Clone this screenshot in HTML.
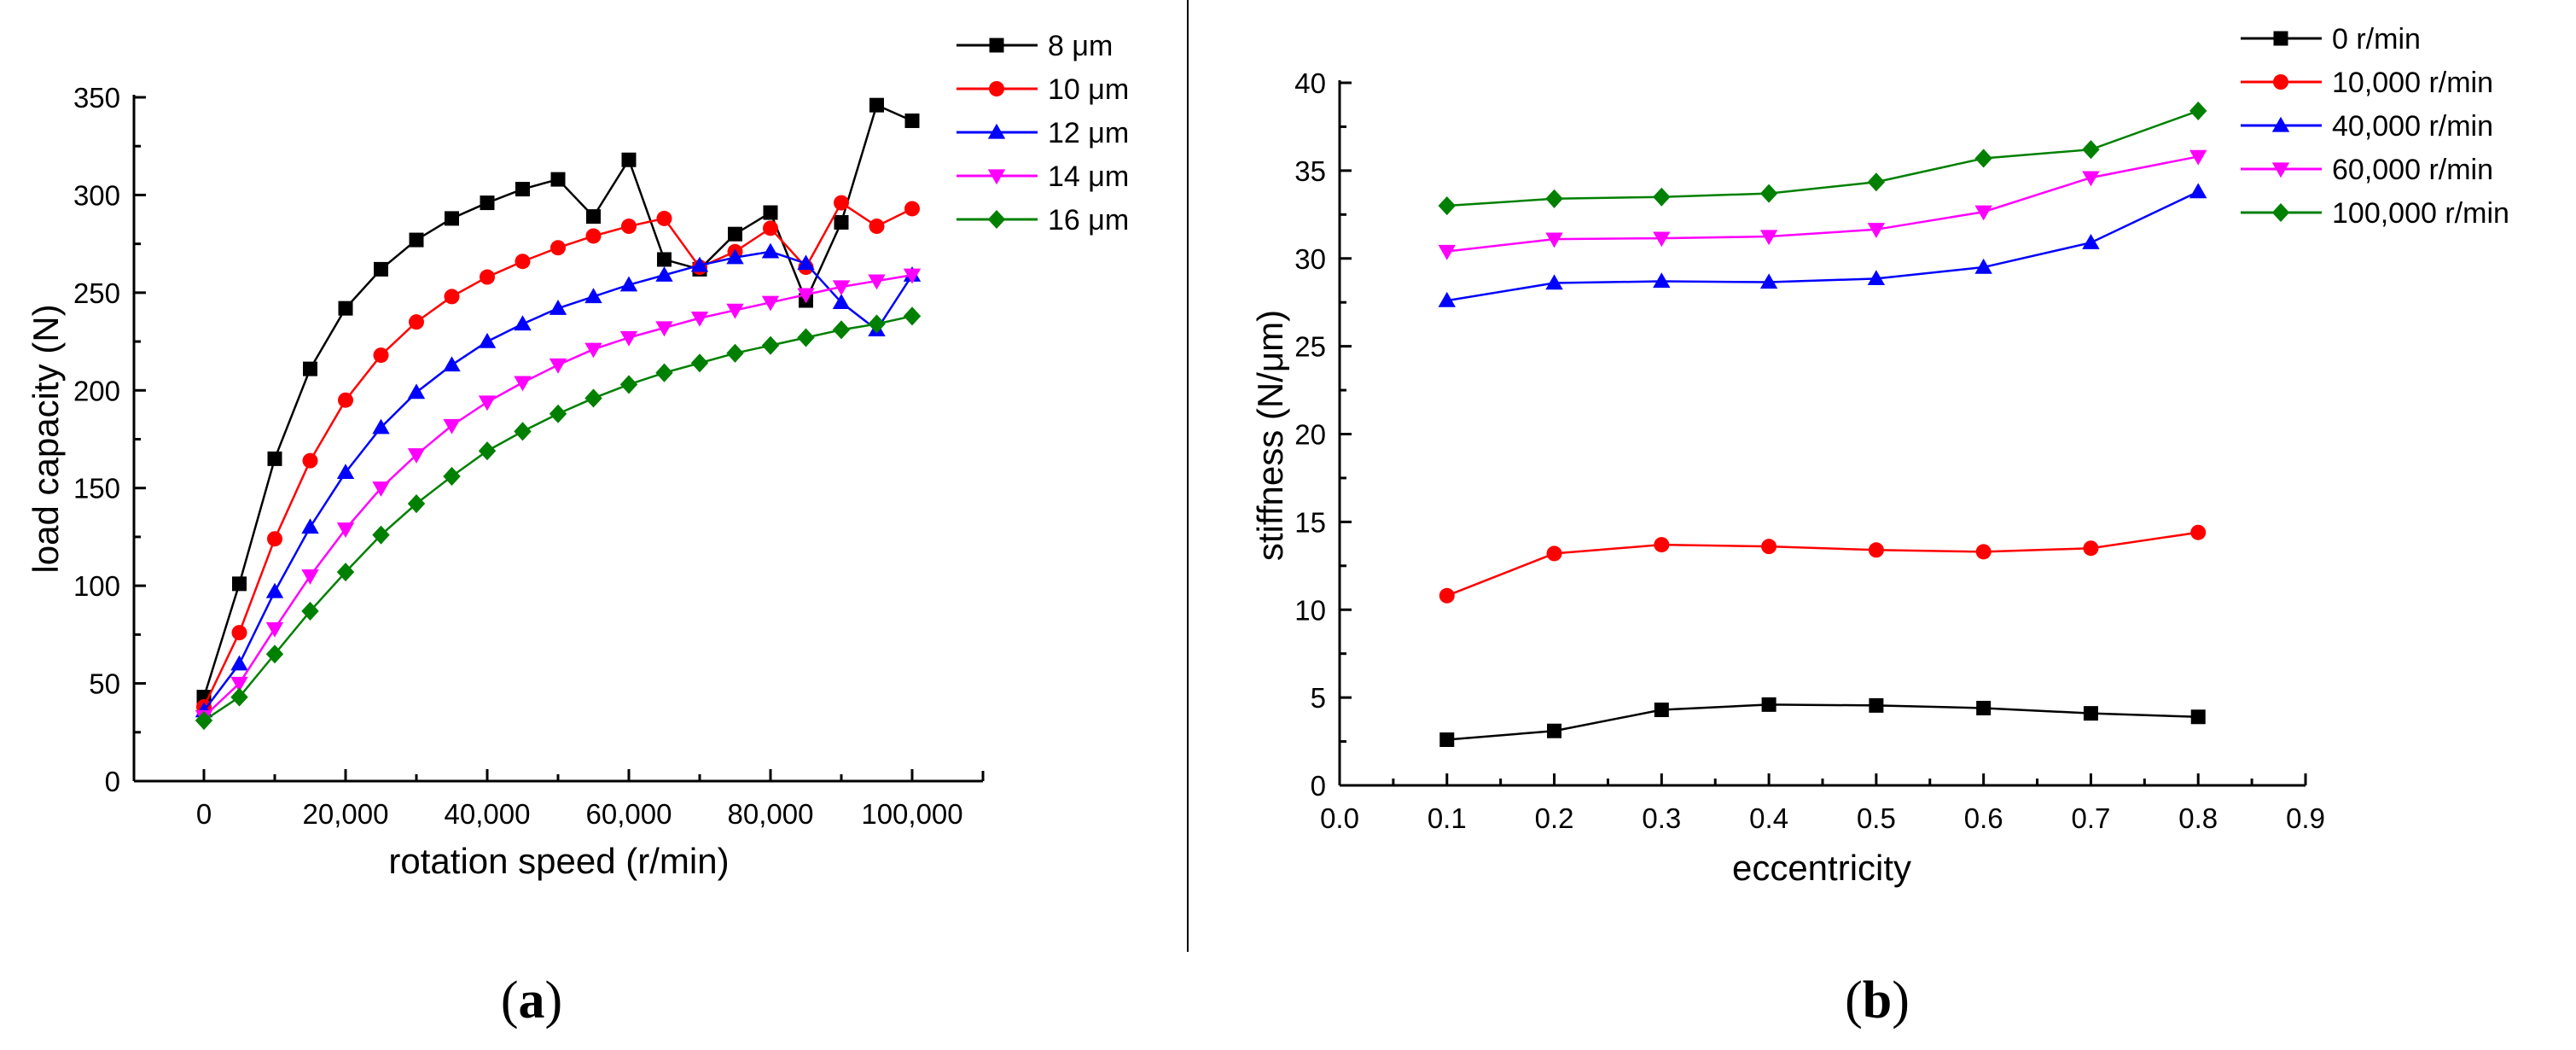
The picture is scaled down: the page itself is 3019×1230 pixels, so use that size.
<!DOCTYPE html>
<html><head><meta charset="utf-8"><style>
html,body{margin:0;padding:0;background:#fff;}
svg{display:block;font-family:"Liberation Sans",Arial,sans-serif;}
</style></head><body>
<svg id="fig" width="3019" height="1230" viewBox="0 0 3019 1230" xmlns="http://www.w3.org/2000/svg">
<rect width="3019" height="1230" fill="#fff"/>
<line x1="1392" y1="0" x2="1392" y2="1115" stroke="#000" stroke-width="2"/>
<text x="623" y="1192" font-family="Liberation Serif, serif" font-size="62" text-anchor="middle">(<tspan font-weight="bold">a</tspan>)</text>
<text x="2200" y="1192" font-family="Liberation Serif, serif" font-size="62" text-anchor="middle">(<tspan font-weight="bold">b</tspan>)</text>
</svg>
<script>
// ---------- Panel A data ----------
const speedsA = [0,5000,10000,15000,20000,25000,30000,35000,40000,45000,50000,55000,60000,65000,70000,75000,80000,85000,90000,95000,100000];
const seriesA_8 = [43,101,165,211,242,262,277,288,296,303,308,289,318,267,262,280,291,246,286,346,338];
const seriesA_10 = [38,76,124,164,195,218,235,248,258,266,273,279,284,288,263,271,283,263,296,284,293];
const seriesA_12 = [36,60,97,130,158,181,199,213,225,234,242,248,254,259,264,268,271,265,245,231,259];
const seriesA_14 = [33,50,78,105,129,150,167,182,194,204,213,221,227,232,237,241,245,249,253,256,259];
const seriesA_16 = [31,43,65,87,107,126,142,156,169,179,188,196,203,209,214,219,223,227,231,234,238];
const labelsA = ["8 μm","10 μm","12 μm","14 μm","16 μm"];
const xTicksA = [0,20000,40000,60000,80000,100000];
const xTickLabelsA = ["0","20,000","40,000","60,000","80,000","100,000"];
const yTicksA = [0,50,100,150,200,250,300,350];
// ---------- Panel B data ----------
const eccB = [0.1,0.2,0.3,0.4,0.5,0.6,0.7,0.8];
const seriesB_0 = [2.6,3.1,4.3,4.6,4.55,4.4,4.1,3.9];
const seriesB_10k = [10.8,13.2,13.7,13.6,13.4,13.3,13.5,14.4];
const seriesB_40k = [27.6,28.6,28.7,28.65,28.85,29.5,30.9,33.8];
const seriesB_60k = [30.4,31.1,31.15,31.25,31.65,32.65,34.6,35.8];
const seriesB_100k = [33.0,33.4,33.5,33.7,34.35,35.7,36.2,38.4];
const labelsB = ["0 r/min","10,000 r/min","40,000 r/min","60,000 r/min","100,000 r/min"];
const xTicksB = [0,0.1,0.2,0.3,0.4,0.5,0.6,0.7,0.8,0.9];
const yTicksB = [0,5,10,15,20,25,30,35,40];

const NS="http://www.w3.org/2000/svg";
const svg=document.getElementById('fig');
const colors=["#000000","#ff0000","#0000ff","#ff00ff","#008000"];
const shapes=["square","circle","up","down","diamond"];
function el(tag,attrs,parent){const e=document.createElementNS(NS,tag);for(const k in attrs)e.setAttribute(k,attrs[k]);(parent||svg).appendChild(e);return e;}
function marker(g,shape,x,y,c,s){
  let m;
  if(shape==="square") m=el('rect',{x:x-s/2,y:y-s/2,width:s,height:s,fill:c},g);
  else if(shape==="circle") m=el('circle',{cx:x,cy:y,r:s/2+0.5,fill:c},g);
  else if(shape==="up") m=el('polygon',{points:`${x},${y-s*0.6} ${x-s*0.6},${y+s*0.45} ${x+s*0.6},${y+s*0.45}`,fill:c},g);
  else if(shape==="down") m=el('polygon',{points:`${x},${y+s*0.6} ${x-s*0.6},${y-s*0.45} ${x+s*0.6},${y-s*0.45}`,fill:c},g);
  else m=el('polygon',{points:`${x},${y-s*0.65} ${x+s*0.6},${y} ${x},${y+s*0.65} ${x-s*0.6},${y}`,fill:c},g);
  return m;
}
function drawPanel(cfg){
  const {id,x0px,x1px,y0px,y1px,xmin,xmax,ymin,ymax,axL,axR,axB,xTicks,xTickLabels,xMinor,yTicks,yMinor,xs,series,labels,legX,legY,legDy,xTitle,xTitleX,xTitleY,yTitle,yTitleX,yTitleY}=cfg;
  const sx=v=>x0px+(v-xmin)/(xmax-xmin)*(x1px-x0px);
  const sy=v=>y0px-(v-ymin)/(ymax-ymin)*(y0px-y1px);
  const g=el('g',{});
  
  
  const ax=el('g',{stroke:'#000','stroke-width':3,fill:'none'},g);
  
  
  el('line',{x1:axL,y1:axB,x2:axR,y2:axB},ax);
  el('line',{x1:axL,y1:axB,x2:axL,y2:y1px-3},ax);
  el('line',{x1:axR,y1:axB,x2:axR,y2:axB-12},ax);
  xTicks.forEach((t,i)=>{
    el('line',{x1:sx(t),y1:axB,x2:sx(t),y2:axB-14},ax);
    const tx=el('text',{x:sx(t),y:axB+50,'font-size':33,'text-anchor':'middle',fill:'#000',stroke:'none'},g);
    tx.textContent=xTickLabels[i];
    
    
  });
  xMinor.forEach(t=>{el('line',{x1:sx(t),y1:axB,x2:sx(t),y2:axB-8},ax);});
  yTicks.forEach(t=>{
    el('line',{x1:axL,y1:sy(t),x2:axL+14,y2:sy(t)},ax);
    const tx=el('text',{x:axL-16,y:sy(t)+12,'font-size':33,'text-anchor':'end',fill:'#000',stroke:'none'},g);
    tx.textContent=String(t);
    
    
  });
  yMinor.forEach(t=>{el('line',{x1:axL,y1:sy(t),x2:axL+8,y2:sy(t)},ax);});
  const xt=el('text',{x:xTitleX,y:xTitleY,'font-size':42,'text-anchor':'middle'},g);
  xt.textContent=xTitle;
  
  
  const yt=el('text',{x:yTitleX,y:yTitleY,'font-size':42,'text-anchor':'middle',transform:`rotate(-90 ${yTitleX} ${yTitleY})`},g);
  yt.textContent=yTitle;
  
  
  series.forEach((d,si)=>{
    const sg=el('g',{},g);
    
    
    el('polyline',{points:d.map((v,i)=>sx(xs[i])+','+sy(v)).join(' '),fill:'none',stroke:colors[si],'stroke-width':2.5},sg);
    d.forEach((v,i)=>{const m=marker(sg,shapes[si],sx(xs[i]),sy(v),colors[si],17);
      
      });
    const lg=el('g',{},g);
    
    
    const ly=legY+si*legDy;
    el('line',{x1:legX,y1:ly,x2:legX+95,y2:ly,stroke:colors[si],'stroke-width':3},lg);
    marker(lg,shapes[si],legX+47,ly,colors[si],17);
    const lt=el('text',{x:legX+107,y:ly+12,'font-size':34},lg);
    lt.textContent=labels[si];
  });
}
const range=(a,b,s)=>{const r=[];for(let v=a;v<=b+1e-9;v+=s)r.push(+v.toFixed(4));return r;};
drawPanel({id:'load',x0px:239,x1px:1069,y0px:915,y1px:114,xmin:0,xmax:100000,ymin:0,ymax:350,
  axL:157,axR:1152,axB:915,xTicks:xTicksA,xTickLabels:xTickLabelsA,xMinor:range(10000,90000,20000),
  yTicks:yTicksA,yMinor:range(25,325,50),xs:speedsA,
  series:[seriesA_8,seriesA_10,seriesA_12,seriesA_14,seriesA_16],labels:labelsA,
  legX:1121,legY:53,legDy:51,xTitle:'rotation speed (r/min)',xTitleX:655,xTitleY:1023,
  yTitle:'load capacity (N)',yTitleX:68,yTitleY:514});
drawPanel({id:'stiffness',x0px:1570,x1px:2702,y0px:920,y1px:97,xmin:0,xmax:0.9,ymin:0,ymax:40,
  axL:1570,axR:2702,axB:920,xTicks:xTicksB,xTickLabels:xTicksB.map(v=>v.toFixed(1)),xMinor:range(0.05,0.85,0.1),
  yTicks:yTicksB,yMinor:range(2.5,37.5,5),xs:eccB,
  series:[seriesB_0,seriesB_10k,seriesB_40k,seriesB_60k,seriesB_100k],labels:labelsB,
  legX:2626,legY:45,legDy:51,xTitle:'eccentricity',xTitleX:2135,xTitleY:1031,
  yTitle:'stiffness (N/μm)',yTitleX:1503,yTitleY:510});
</script>
</body></html>
